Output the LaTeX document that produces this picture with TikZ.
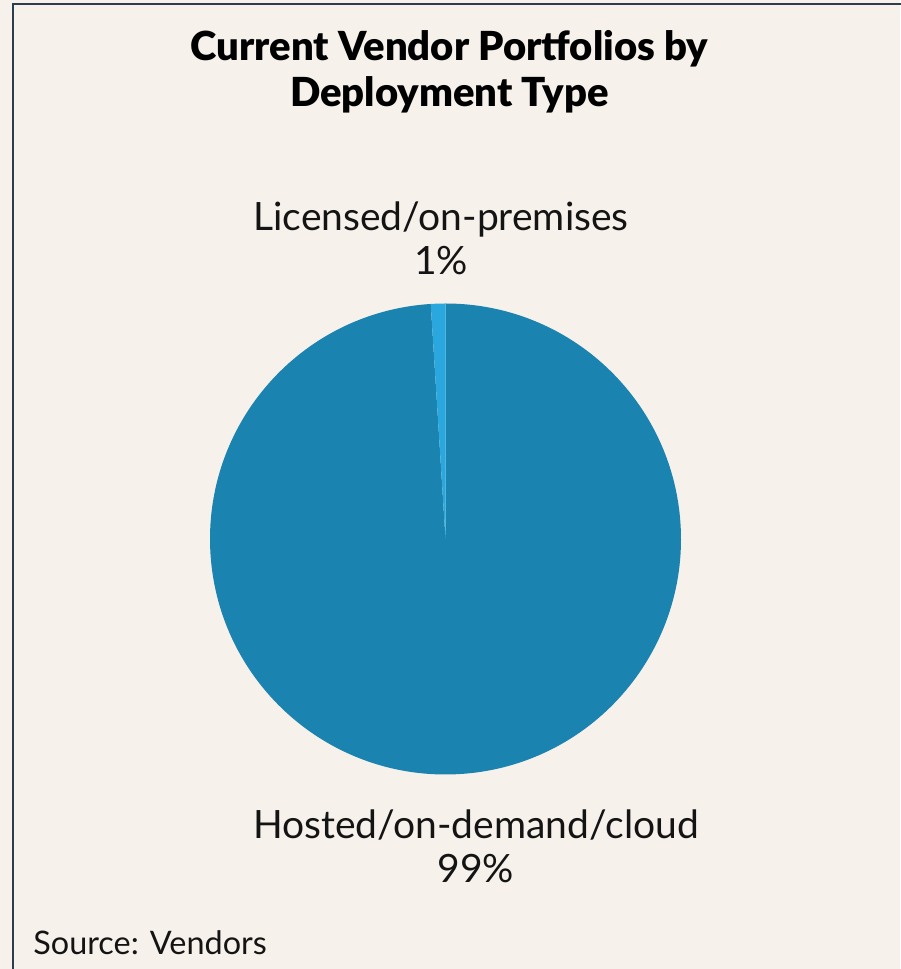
\documentclass[tikz,border=0pt]{standalone}
\usepackage{fontspec}
\setmainfont{Lato}
\newfontfamily\titlefont{Lato Black}
\usetikzlibrary{positioning}
\definecolor{chartbg}{HTML}{F7F1EB}
\definecolor{chartframe}{HTML}{2C3E4E}
\definecolor{cloudblue}{HTML}{1B83AF}
\definecolor{onpremblue}{HTML}{2AA7DF}
\tikzset{
  charttitle/.style={font=\fontsize{20}{23}\selectfont\titlefont,
    align=center, inner sep=0pt, anchor=base},
  slicelabel/.style={font=\fontsize{19.5}{22}\selectfont,
    align=center, inner sep=0pt, anchor=base, text=black!92},
  sourcenote/.style={font=\fontsize{16.2}{18}\selectfont,
    inner sep=0pt, anchor=base west, text=black!92},
}

\begin{document}
\begin{tikzpicture}[x=0.5pt, y=0.5pt]
\useasboundingbox[fill=chartbg] (0,0) rectangle (900,969);
%% frame, right and bottom edges run off the page
\draw[chartframe, line width=1pt] (12.5,-20) -- (12.5,964.5) -- (920,964.5);

\node[charttitle] (title) at (449.5, 862) {Current Vendor Portfolios by\\Deployment Type};

%% pie: 99% hosted, 1% licensed
\coordinate (piecenter) at (445.5, 430);
\fill[cloudblue] (piecenter) -- ++(93.6:235.5)
  arc[start angle=93.6, end angle=450, radius=235.5] -- cycle;
\fill[onpremblue] (piecenter) -- ++(90:235.5)
  arc[start angle=90, end angle=93.6, radius=235.5] -- cycle;

%% Labels
\node[slicelabel] (lbl_onprem) at (441, 694) {Licensed/on-premises\\1\%};
\node[slicelabel] (lbl_cloud)  at (476, 86) {Hosted/on-demand/cloud\\99\%};

\node[sourcenote] (source) at (33, 14) {Source: Vendors};
\end{tikzpicture}
\end{document}
